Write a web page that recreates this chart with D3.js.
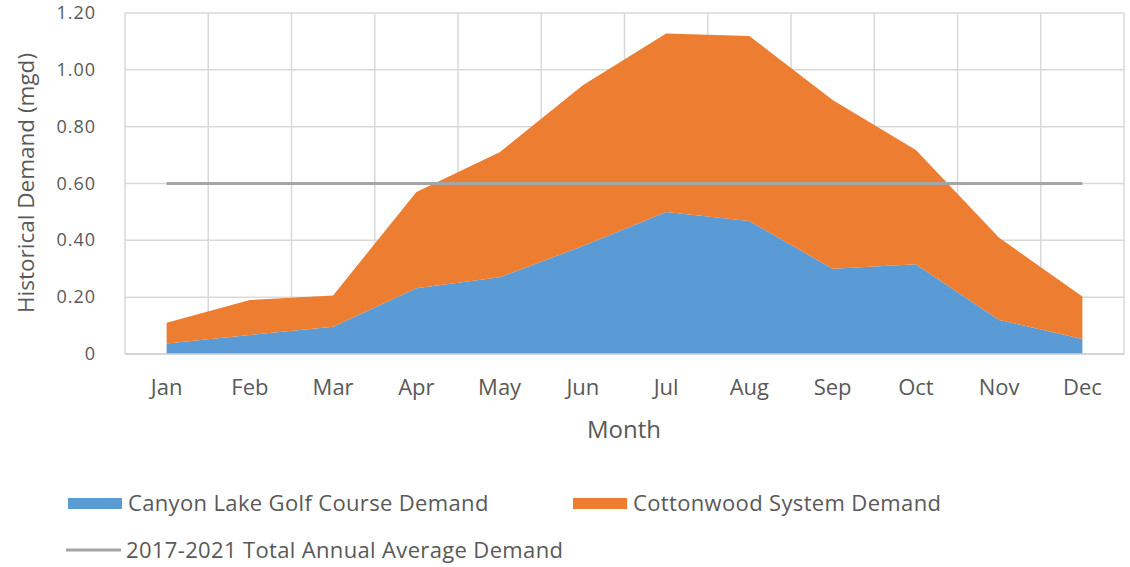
<!DOCTYPE html>
<html>
<head>
<meta charset="utf-8">
<script src="https://cdn.jsdelivr.net/npm/d3@7"></script>
<style>
  body { margin: 0; background: #fff; }
  svg text { font-family: "Open Sans", "Noto Sans", sans-serif; fill: #595959; }
</style>
</head>
<body>
<svg id="chart" width="1130" height="567"></svg>
<script>
// data
var months = ["Jan","Feb","Mar","Apr","May","Jun","Jul","Aug","Sep","Oct","Nov","Dec"];
var golfDemand = [0.037, 0.067, 0.096, 0.231, 0.27, 0.38, 0.50, 0.468, 0.30, 0.316, 0.12, 0.053];
var cottonwoodDemand = [0.073, 0.123, 0.110, 0.339, 0.44, 0.566, 0.628, 0.651, 0.594, 0.402, 0.289, 0.149];
var annualAverage = 0.60;
var yTicks = [0, 0.2, 0.4, 0.6, 0.8, 1.0, 1.2];

var svg = d3.select("#chart");
var plotLeft = 125, plotRight = 1124, plotTop = 13, plotBottom = 354;

var x = d3.scaleBand().domain(months).range([plotLeft, plotRight]);
var y = d3.scaleLinear().domain([0, 1.2]).range([plotBottom, plotTop]);
var cx = function (m) { return x(m) + x.bandwidth() / 2; };

// grid
var grid = svg.append("g");
grid.selectAll("line.h").data(yTicks).enter().append("line")
    .attr("x1", plotLeft).attr("x2", plotRight)
    .attr("y1", d => y(d)).attr("y2", d => y(d))
    .attr("stroke", "#d9d9d9").attr("stroke-width", 1.5);
var vx = months.map(m => x(m)).concat([plotRight]);
grid.selectAll("line.v").data(vx).enter().append("line")
    .attr("x1", d => d).attr("x2", d => d)
    .attr("y1", plotTop).attr("y2", plotBottom)
    .attr("stroke", "#d9d9d9").attr("stroke-width", 1.5);

// stacked areas
var rows = months.map(function (m, i) {
    return {month: m, golf: golfDemand[i], cottonwood: cottonwoodDemand[i]};
});
var stack = d3.stack().keys(["golf", "cottonwood"]);
var series = stack(rows);
var colors = {golf: "#5B9BD5", cottonwood: "#ED7D31"};

var area = d3.area()
    .x(d => cx(d.data.month))
    .y0(d => y(d[0]))
    .y1(d => y(d[1]));

svg.append("g").selectAll("path").data(series).enter().append("path")
    .attr("d", area)
    .attr("fill", d => colors[d.key]);

// average line
svg.append("line")
    .attr("x1", cx(months[0])).attr("x2", cx(months[months.length - 1]))
    .attr("y1", y(annualAverage)).attr("y2", y(annualAverage))
    .attr("stroke", "#A5A5A5").attr("stroke-width", 3);

// bottom axis line
svg.append("line")
    .attr("x1", plotLeft).attr("x2", plotRight)
    .attr("y1", plotBottom).attr("y2", plotBottom)
    .attr("stroke", "#d0d0d0").attr("stroke-width", 1.5);

// y tick labels
svg.append("g").selectAll("text").data(yTicks).enter().append("text")
    .attr("x", 96).attr("y", d => y(d) + 6)
    .attr("text-anchor", "end")
    .attr("font-size", 18)
    .attr("letter-spacing", 1)
    .text(d => d === 0 ? "0" : d.toFixed(2));

// x tick labels
svg.append("g").selectAll("text").data(months).enter().append("text")
    .attr("x", d => cx(d)).attr("y", 395)
    .attr("text-anchor", "middle")
    .attr("font-size", 22)
    .text(d => d);

// axis titles
svg.append("text")
    .attr("x", 624).attr("y", 438)
    .attr("text-anchor", "middle")
    .attr("font-size", 24)
    .text("Month");

svg.append("text")
    .attr("transform", "translate(34,183) rotate(-90)")
    .attr("text-anchor", "middle")
    .attr("font-size", 22.5)
    .text("Historical Demand (mgd)");

// legend
var legend = svg.append("g");
var legendItems = [
    {label: "Canyon Lake Golf Course Demand", color: colors.golf, x: 68, y: 503, type: "rect"},
    {label: "Cottonwood System Demand", color: colors.cottonwood, x: 573, y: 503, type: "rect"},
    {label: "2017-2021 Total Annual Average Demand", color: "#A5A5A5", x: 66, y: 550, type: "line"}
];
legendItems.forEach(function (it) {
    if (it.type == "rect")
        legend.append("rect").attr("x", it.x).attr("y", it.y - 5)
            .attr("width", 54).attr("height", 11).attr("fill", it.color);
    else
        legend.append("line").attr("x1", it.x).attr("x2", it.x + 55)
            .attr("y1", it.y).attr("y2", it.y)
            .attr("stroke", it.color).attr("stroke-width", 3);
    legend.append("text")
        .attr("x", it.x + 60).attr("y", it.y + 8)
        .attr("font-size", 22)
        .attr("letter-spacing", 0.35)
        .text(it.label);
});
</script>
</body>
</html>
